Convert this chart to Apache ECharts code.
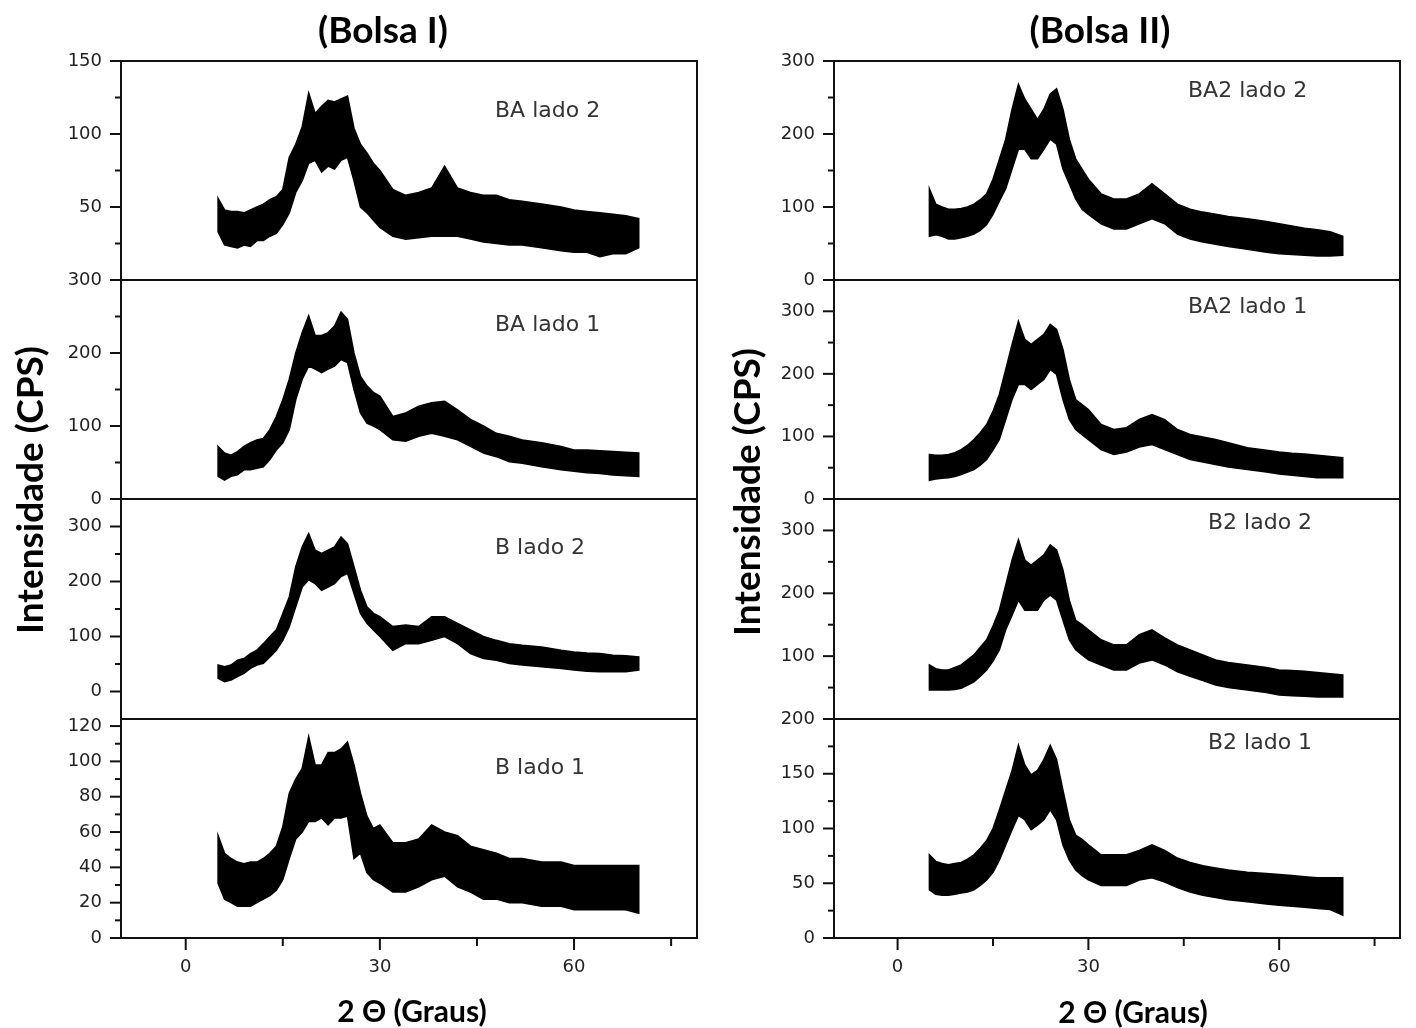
<!DOCTYPE html>
<html><head><meta charset="utf-8">
<script src="https://cdn.jsdelivr.net/npm/echarts@6/dist/echarts.min.js"></script>
<style>html,body{margin:0;padding:0;background:#fff}#c{width:1416px;height:1028px}</style>
</head><body><div id="c"></div>
<script>
// 2θ sample positions (degrees)
const twoTheta = [5,6,7,8,9,10,11,12,13,14,15,16,17,18,19,20,21,22,23,24,25,26,27,28,29,30,32,34,36,38,40,42,44,46,48,50,52,55,58,60,62,64,66,68,70];

// Bolsa I — upper / lower envelope of the noisy trace (CPS)
const baLado2Hi = [56,48,47,47,46,48,50,52,55,57,62,84,93,105,128,114,119,123,122,124,126,104,93,87,80,75,62,58,60,63,78,63,60,58,58,55,54,52,50,48,47,46,45,44,42];
const baLado2Lo = [33,24,23,22,24,23,27,27,30,32,38,46,60,68,80,82,74,78,76,82,84,68,50,46,41,36,30,28,29,30,30,30,28,26,25,24,24,22,20,19,19,16,18,18,22];
const baLado1Hi = [72,63,60,65,72,77,81,83,95,113,136,164,200,228,251,224,224,228,237,256,246,200,168,155,146,141,113,118,127,132,134,122,109,100,90,86,81,77,72,67,67,66,65,64,63];
const baLado1Lo = [31,26,31,33,40,40,42,44,54,67,77,95,136,164,182,178,173,178,182,191,187,150,118,104,100,95,81,79,86,90,86,81,72,63,58,51,49,44,40,38,36,35,33,32,31];
const bLado2Hi  = [48,45,48,57,60,69,75,87,100,112,142,172,227,263,287,257,251,257,263,281,269,227,184,154,142,136,118,121,118,136,136,124,112,100,93,87,84,81,75,72,70,69,66,65,63];
const bLado2Lo  = [24,18,21,27,33,42,48,51,63,75,93,118,154,190,203,196,184,190,196,209,215,178,142,124,112,100,75,87,87,93,100,87,69,60,57,51,48,45,42,39,37,36,36,36,39];
const bLado1Hi  = [58,48,45,43,42,43,43,45,48,52,63,82,90,96,114,98,98,105,105,107,111,98,82,69,62,64,54,54,56,64,60,58,52,50,48,45,45,43,43,41,41,41,41,41,41];
const bLado1Lo  = [31,22,20,18,18,18,20,22,24,27,33,45,56,60,66,66,68,64,68,68,69,45,48,37,33,31,26,26,29,33,35,29,26,22,22,20,20,18,18,16,16,16,16,16,14];

// Bolsa II
const ba2Lado2Hi = [125,104,100,97,97,98,100,104,110,118,138,165,193,234,268,248,234,220,234,255,262,234,193,166,152,138,118,111,111,118,132,118,104,97,93,90,87,84,80,77,74,71,69,66,60];
const ba2Lado2Lo = [60,62,60,56,56,58,60,63,68,76,90,108,125,152,179,179,166,166,179,193,186,152,132,111,97,90,77,70,70,77,84,77,63,56,52,49,46,42,38,36,35,34,33,33,34];
const ba2Lado1Hi = [71,70,70,71,74,79,86,95,106,119,140,167,207,247,284,255,247,255,263,279,271,239,191,159,151,143,119,111,114,127,135,127,111,103,99,95,90,82,78,75,73,72,70,68,66];
const ba2Lado1Lo = [30,32,33,34,36,39,43,47,54,63,78,95,127,159,183,183,175,183,191,207,199,159,127,111,103,95,79,71,75,83,87,79,71,63,59,55,51,47,43,40,38,36,34,34,34];
const b2Lado2Hi  = [86,80,78,78,82,86,94,102,114,126,148,173,213,253,285,253,245,253,261,277,269,237,189,157,150,142,126,118,118,134,142,129,118,110,102,94,90,86,82,78,77,76,74,72,70];
const b2Lado2Lo  = [46,46,46,46,47,49,54,59,68,78,92,110,142,165,189,173,173,173,189,197,189,157,126,110,102,94,86,78,78,89,94,86,75,68,61,54,50,46,42,38,37,36,35,35,35];
const b2Lado1Hi  = [76,70,68,67,68,69,72,76,82,89,100,117,135,153,176,158,149,153,163,176,163,135,108,94,90,85,76,76,76,80,85,80,73,69,66,64,62,60,59,58,57,56,55,55,55];
const b2Lado1Lo  = [44,40,39,39,40,41,42,44,48,53,60,71,85,99,112,108,99,103,108,117,108,85,71,62,57,53,48,48,48,53,55,51,46,42,39,37,35,33,31,30,29,28,27,26,21];

// Panel names
const panelNames = ['BA lado 2','BA lado 1','B lado 2','B lado 1','BA2 lado 2','BA2 lado 1','B2 lado 2','B2 lado 1'];

// Tick labels / ticks
const xTickLabels = [0,30,60];
const xMajorTicks = [0,30,60];
const xMinorTicks = [15,45,75];
const yLabelsL = [[50,100,150],[0,100,200,300],[0,100,200,300],[0,20,40,60,80,100,120]];
const yMajorL  = [[0,50,100,150],[0,100,200,300],[0,100,200,300],[0,20,40,60,80,100,120]];
const yMinorL  = [[25,75,125],[50,150,250],[50,150,250],[10,30,50,70,90,110]];
const yLabelsR = [[0,100,200,300],[0,100,200,300],[100,200,300],[0,50,100,150,200]];
const yMajorR  = [[0,100,200,300],[0,100,200,300],[0,100,200,300],[0,50,100,150,200]];
const yMinorR  = [[50,150,250],[50,150,250],[50,150,250],[25,75,125,175]];
const yRangeL = [[0,150],[0,300],[-50,350],[0,124]];
const yRangeR = [[0,300],[0,350],[0,350],[0,200]];
const xRange = [-10,79];

const his = [baLado2Hi,baLado1Hi,bLado2Hi,bLado1Hi,ba2Lado2Hi,ba2Lado1Hi,b2Lado2Hi,b2Lado1Hi];
const los = [baLado2Lo,baLado1Lo,bLado2Lo,bLado1Lo,ba2Lado2Lo,ba2Lado1Lo,b2Lado2Lo,b2Lado1Lo];

const chart = echarts.init(document.getElementById('c'), null, {renderer:'canvas'});
const colLeft=[121,834], colWidth=[576,566];
const rowTop=[61,280,499,719], rowH=[219,219,220,219];
const grids=[], xAxes=[], yAxes=[], series=[], graphics=[];
const labelPos = [[495,111],[495,325],[495,548],[495,768],[1188,91],[1188,307],[1208,523],[1208,743]];
const LEN = {xMajor:12, xMinor:8, yMajor:11, yMinor:6};
const TICK_FONT = '18px "DejaVu Sans"';

function bandRenderer(hi, lo){
  return function(params, api){
    if (params.dataIndex !== 0) return null;
    const pts = [];
    for (let k=0;k<twoTheta.length;k++) pts.push(api.coord([twoTheta[k], hi[k]]));
    for (let k=twoTheta.length-1;k>=0;k--) pts.push(api.coord([twoTheta[k], lo[k]]));
    return {type:'polygon', shape:{points:pts}, style:{fill:'#000', stroke:'#000', lineWidth:1.5}};
  };
}
// tick marks (filled rects) positioned through the axes' scales: item = [value, length, isXAxis]
function tickRenderer(yMin){
  return function(params, api){
    const v = api.value(0), len = api.value(1), isX = api.value(2);
    if (isX) {
      const p = api.coord([v, yMin]);
      return {type:'rect', shape:{x:p[0]-1, y:p[1], width:2, height:len}, style:{fill:'#111'}};
    }
    const p = api.coord([xRange[0], v]);
    return {type:'rect', shape:{x:p[0]-len, y:p[1]-1, width:len, height:2}, style:{fill:'#111'}};
  };
}
// tick labels positioned through the axes' scales: item = [value, isXAxis]
function labelRenderer(yMin){
  return function(params, api){
    const v = api.value(0), isX = api.value(1);
    if (isX) {
      const p = api.coord([v, yMin]);
      return {type:'text', x:p[0], y:p[1]+20, style:{text:String(v), textAlign:'center', textVerticalAlign:'top', font:TICK_FONT, fill:'#222'}};
    }
    const p = api.coord([xRange[0], v]);
    return {type:'text', x:p[0]-19, y:p[1], style:{text:String(v), textAlign:'right', textVerticalAlign:'middle', font:TICK_FONT, fill:'#222'}};
  };
}

for (let i=0;i<8;i++){
  const col = i<4?0:1, row = i%4;
  const bottom = row===3;
  const rng = col===0?yRangeL[row]:yRangeR[row];
  grids.push({left:colLeft[col], top:rowTop[row], width:colWidth[col], height:rowH[row],
    show:true, borderColor:'#111', borderWidth:2, backgroundColor:'transparent'});
  xAxes.push({type:'value', gridIndex:i, position:'bottom', min:xRange[0], max:xRange[1],
    axisLine:{show:false, onZero:false}, splitLine:{show:false}, axisTick:{show:false}, axisLabel:{show:false}});
  yAxes.push({type:'value', gridIndex:i, position:'left', min:rng[0], max:rng[1],
    axisLine:{show:false, onZero:false}, splitLine:{show:false}, axisTick:{show:false}, axisLabel:{show:false}});
  const hi = his[i], lo = los[i];
  series.push({type:'custom', xAxisIndex:i, yAxisIndex:i, silent:true, clip:true,
    renderItem: bandRenderer(hi, lo),
    data: twoTheta.map((x,k)=>[x, lo[k], hi[k]]), encode:{x:0, y:[1,2]}});
  const ticks = [], labels = [];
  (col===0?yMajorL:yMajorR)[row].forEach(v=>ticks.push([v, LEN.yMajor, 0]));
  (col===0?yMinorL:yMinorR)[row].forEach(v=>ticks.push([v, LEN.yMinor, 0]));
  (col===0?yLabelsL:yLabelsR)[row].forEach(v=>labels.push([v, 0]));
  if (bottom){
    xMajorTicks.forEach(v=>ticks.push([v, LEN.xMajor, 1]));
    xMinorTicks.forEach(v=>ticks.push([v, LEN.xMinor, 1]));
    xTickLabels.forEach(v=>labels.push([v, 1]));
  }
  series.push({type:'custom', xAxisIndex:i, yAxisIndex:i, silent:true, clip:false, z:60,
    renderItem: tickRenderer(rng[0]), data: ticks,
    dimensions:['v','len','isX'], encode:{x:'v', y:'v'}});
  series.push({type:'custom', xAxisIndex:i, yAxisIndex:i, silent:true, clip:false, z:55,
    renderItem: labelRenderer(rng[0]), data: labels,
    dimensions:['v','isX'], encode:{x:'v', y:'v'}});
  graphics.push({type:'text', x:labelPos[i][0], y:labelPos[i][1], style:{text:panelNames[i], textAlign:'left', textVerticalAlign:'middle', font:'22px "DejaVu Sans"', fill:'#333'}});
}

const boldFont = 'Lato';
graphics.push({type:'text', x:383, y:31, style:{text:'(Bolsa I)', textAlign:'center', textVerticalAlign:'middle', font:'bold 37px '+boldFont, fill:'#000'}});
graphics.push({type:'text', x:1100, y:31, style:{text:'(Bolsa II)', textAlign:'center', textVerticalAlign:'middle', font:'bold 37px '+boldFont, fill:'#000'}});
graphics.push({type:'text', x:31, y:490, rotation:Math.PI/2, style:{text:'Intensidade (CPS)', textAlign:'center', textVerticalAlign:'middle', font:'bold 37px '+boldFont, fill:'#000'}});
graphics.push({type:'text', x:748, y:492, rotation:Math.PI/2, style:{text:'Intensidade (CPS)', textAlign:'center', textVerticalAlign:'middle', font:'bold 37px '+boldFont, fill:'#000'}});
graphics.push({type:'text', x:412, y:1012, style:{text:'2 Θ (Graus)', textAlign:'center', textVerticalAlign:'middle', font:'bold 30px '+boldFont, fill:'#000'}});
graphics.push({type:'text', x:1133, y:1013, style:{text:'2 Θ (Graus)', textAlign:'center', textVerticalAlign:'middle', font:'bold 30px '+boldFont, fill:'#000'}});

chart.setOption({animation:false, backgroundColor:'#fff', grid:grids, xAxis:xAxes, yAxis:yAxes, series:series, graphic:graphics});
</script></body></html>
